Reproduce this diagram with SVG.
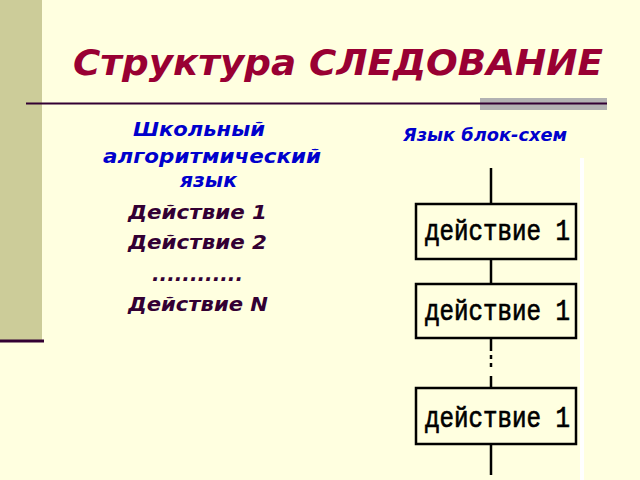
<svg xmlns="http://www.w3.org/2000/svg" width="640" height="480" viewBox="0 0 640 480">
<style>
.title{font-family:"DejaVu Sans",Verdana,sans-serif;font-weight:bold;font-style:italic;fill:#990033;font-size:36px}
.blue{font-family:"DejaVu Sans",Verdana,sans-serif;font-weight:bold;font-style:italic;fill:#0000CC}
.dark{font-family:"DejaVu Sans",Verdana,sans-serif;font-weight:bold;font-style:italic;fill:#330033;font-size:20px}
.box{fill:#FFFFE0;stroke:#000;stroke-width:2.5}
.conn{stroke:#000;stroke-width:2.5;fill:none}
.lbl{font-family:"Liberation Mono","Courier New",monospace;font-size:30px;fill:#000;stroke:#000;stroke-width:0.7}
</style>
<rect x="0" y="0" width="640" height="480" fill="#FFFFE0"/>
<rect x="0" y="0" width="42" height="340" fill="#CCCC99"/>
<rect x="0" y="339.5" width="44" height="3" fill="#330033"/>
<rect x="480" y="98" width="127" height="12" fill="#B2B2B2"/>
<rect x="26" y="102.5" width="581" height="2" fill="#330033"/>
<text class="title" x="73" y="75" textLength="530" lengthAdjust="spacingAndGlyphs">Структура СЛЕДОВАНИЕ</text>
<text class="blue" x="133" y="136" font-size="19" textLength="132" lengthAdjust="spacingAndGlyphs">Школьный</text>
<text class="blue" x="103" y="163" font-size="19" textLength="218" lengthAdjust="spacingAndGlyphs">алгоритмический</text>
<text class="blue" x="180" y="187" font-size="19" textLength="57" lengthAdjust="spacingAndGlyphs">язык</text>
<text class="dark" x="128" y="219" textLength="139" lengthAdjust="spacingAndGlyphs">Действие 1</text>
<text class="dark" x="128" y="249" textLength="139" lengthAdjust="spacingAndGlyphs">Действие 2</text>
<text class="dark" x="152" y="281" textLength="91" lengthAdjust="spacingAndGlyphs">............</text>
<text class="dark" x="128" y="311" textLength="140" lengthAdjust="spacingAndGlyphs">Действие N</text>
<text class="blue" x="403" y="141" font-size="17" textLength="164" lengthAdjust="spacingAndGlyphs">Язык блок-схем</text>
<rect x="580" y="158" width="4" height="322" fill="#FFFFFF"/>
<g id="connectors">
<line class="conn" x1="491" y1="168" x2="491" y2="204"/>
<line class="conn" x1="491" y1="259" x2="491" y2="284"/>
<line class="conn" x1="491" y1="338" x2="491" y2="351"/>
<line class="conn" x1="491" y1="355" x2="491" y2="359"/>
<line class="conn" x1="491" y1="363" x2="491" y2="367"/>
<line class="conn" x1="491" y1="376" x2="491" y2="388"/>
<line class="conn" x1="491" y1="444" x2="491" y2="475"/>
</g>
<g id="box1">
<rect class="box" x="416" y="204" width="160" height="55"/>
<text class="lbl" x="425" y="240" textLength="145" lengthAdjust="spacingAndGlyphs">действие 1</text>
</g>
<g id="box2">
<rect class="box" x="416" y="284" width="160" height="54"/>
<text class="lbl" x="425" y="320" textLength="145" lengthAdjust="spacingAndGlyphs">действие 1</text>
</g>
<g id="box3">
<rect class="box" x="416" y="388" width="160" height="56"/>
<text class="lbl" x="425" y="427" textLength="145" lengthAdjust="spacingAndGlyphs">действие 1</text>
</g>
</svg>
